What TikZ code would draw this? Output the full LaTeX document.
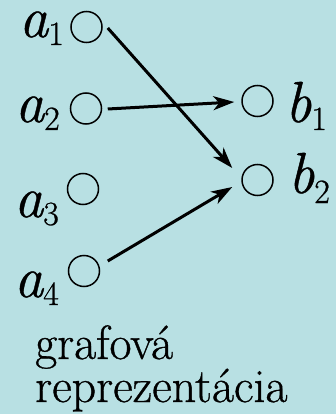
\documentclass[tikz,border=0pt]{standalone}
\usepackage{fontspec}
\setmainfont{Latin Modern Roman}[FakeBold=0.7]
\usetikzlibrary{arrows.meta}
\definecolor{bgc}{HTML}{B8E0E3}
\newcommand\vlab[3][8pt]{{\fontsize{58}{58}\selectfont\itshape #2}\raisebox{-#1}{\fontsize{34}{34}\selectfont #3}}
\begin{document}
\begin{tikzpicture}[x=1pt,y=-1pt,
  vert/.style={draw, circle, minimum size=31pt, inner sep=0pt, line width=1.5pt},
  lab/.style={anchor=base west, inner sep=0pt},
  arr/.style={line width=3pt, -{Stealth[length=21pt,width=14pt,inset=6pt]}},
  captext/.style={anchor=base west, inner sep=0pt, font=\fontsize{48}{48}\selectfont}]
\path[fill=bgc] (0,0) rectangle (336,414);
\node[vert] (a1) at (86.5,27) {};
\node[vert] (a2) at (86,108.5) {};
\node[vert] (a3) at (83,189) {};
\node[vert] (a4) at (84,271) {};
\node[vert] (b1) at (257.5,101) {};
\node[vert] (b2) at (257.5,180) {};
\node[lab] (la1) at (19,37) {\vlab{a}{1}};
\node[lab] (la2) at (15,122) {\vlab{a}{2}};
\node[lab] (la3) at (14,217) {\vlab{a}{3}};
\node[lab] (la4) at (14,297) {\vlab{a}{4}};
\node[lab] (lb1) at (285,122) {\vlab{b}{1}};
\node[lab] (lb2) at (288,193) {\vlab[10pt]{b}{2}};
\draw[arr] ([shift={(5,1)}]a1.east) -- ([shift={(-9,-12)}]b2.west);
\draw[arr] ([shift={(5.5,0.5)}]a2.east) -- ([shift={(-7,1)}]b1.west);
\draw[arr] ([shift={(7.5,-10)}]a4.east) -- ([shift={(-9,7)}]b2.west);
\node[captext] (t1) at (35,359) {grafová};
\node[captext] (t2) at (35,402) {reprezentácia};
\end{tikzpicture}
\end{document}
